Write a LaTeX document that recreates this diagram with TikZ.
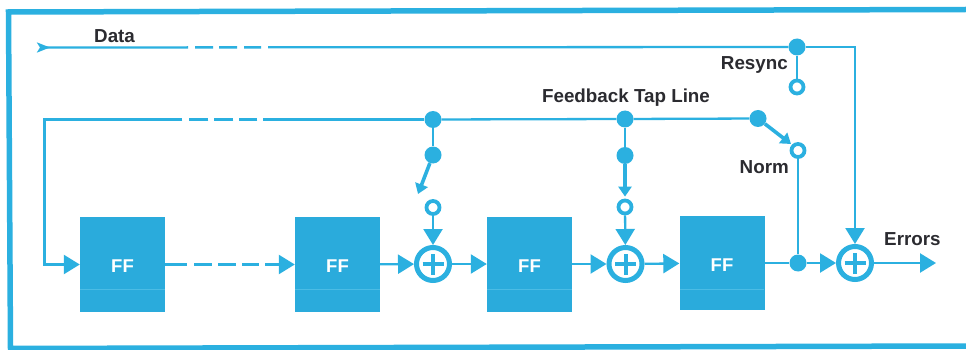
\documentclass[tikz,border=0pt]{standalone}
\usepackage{fontspec}
\setmainfont{Liberation Sans}
\usetikzlibrary{arrows.meta}
\definecolor{hpblue}{HTML}{2BB0E0}
\definecolor{boxblue}{HTML}{2AABDC}
\definecolor{inkdark}{HTML}{2B2B30}
\tikzset{
  wire/.style={draw=hpblue,line width=2.3pt},
  tri/.style={wire,-{Triangle[length=16pt,width=19pt,fill=hpblue]}},
  swarrow/.style={draw=hpblue,line width=3.6pt,-{Triangle[length=10pt,width=13pt,fill=hpblue]}},
  ffbox/.style={rectangle,fill=boxblue,minimum width=85pt,minimum height=95pt,inner sep=0pt,text=white,font=\bfseries\fontsize{18.5}{20}\selectfont},
  dot/.style={circle,fill=hpblue,minimum size=17pt,inner sep=0pt},
  ringsmall/.style={circle,draw=hpblue,line width=3.8pt,fill=white,minimum size=13pt,inner sep=0pt},
  xorring/.style={circle,draw=hpblue,line width=5pt,fill=white,minimum size=33pt,inner sep=0pt},
  plusbar/.style={draw=hpblue,line width=4pt},
  lab/.style={text=inkdark,inner sep=0pt,font=\bfseries\fontsize{18.8}{20}\selectfont},
  framebar/.style={draw=hpblue,line width=5.5pt,line join=miter},
  splitline/.style={draw=hpblue!85!white,line width=0.6pt}
}
\newcommand{\xorplus}[1]{%
  \draw[plusbar] ([xshift=-10.5pt]#1.center) -- ([xshift=10.5pt]#1.center);
  \draw[plusbar] ([yshift=-10.5pt]#1.center) -- ([yshift=10.5pt]#1.center);}
\newcommand{\fflabel}{\raisebox{-8.4pt}[0pt][0pt]{FF}}
\begin{document}
\begin{tikzpicture}[x=1pt,y=-1pt]
\useasboundingbox (0,0) rectangle (966,350);
\fill[white] (0,0) rectangle (966,350);
% frame
\draw[framebar] (966,9.5) -- (8.5,12) -- (10.5,348.5) -- (966,346);
% nodes
\node[ffbox] (ff1) at (122.5,264.5) {\fflabel};
\node[ffbox] (ff2) at (337.5,264.5) {\fflabel};
\node[ffbox] (ff3) at (529.5,264) {\fflabel};
\node[ffbox,minimum height=94pt] (ff4) at (722,263) {\fflabel};
\draw[splitline] (80,289.5) -- (165,289.5);
\draw[splitline] (295,289.5) -- (380,289.5);
\draw[splitline] (487,289.5) -- (572,289.5);
\draw[splitline] (680,289) -- (764,289);
\node[xorring] (x1) at (433,264) {};
\node[xorring] (x2) at (625.5,264) {};
\node[xorring] (x3) at (855,263) {};
\node[dot] (dres) at (797,47) {};
\node[ringsmall] (rres) at (797,87) {};
\node[dot] (dnorm) at (758,118.5) {};
\node[ringsmall] (rnorm) at (798,150.5) {};
\node[dot] (dout) at (798,263) {};
\node[dot] (t1a) at (433,119.5) {};
\node[dot] (t1b) at (433,155) {};
\node[ringsmall] (r1) at (433,207.5) {};
\node[dot] (t2a) at (625,119) {};
\node[dot] (t2b) at (625,155.5) {};
\node[ringsmall] (r2) at (625,207) {};
\coordinate (datastart) at (37,47.5);
\coordinate (fbcorner) at (44.5,119.5);
\coordinate (swend) at (418,194);
\coordinate (errend) at (936,263);
\coordinate (datacorner) at (855,47);
% data line
\draw[wire,{Stealth[reversed,length=13pt,width=10pt,inset=3pt,fill=hpblue]}-,dash pattern=on 142pt off 7pt on 18pt off 6pt on 18pt off 7pt on 17pt off 7pt on 1000pt] (datastart) -- (dres);
\draw[tri] (dres) -- (datacorner) -- (x3);
\draw[wire] (dres) -- (rres);
% feedback line
\draw[tri,line join=miter,dash pattern=on 161pt off 6pt on 18pt off 6pt on 19pt off 6pt on 19pt off 7pt on 1000pt] (t1a) -- (fbcorner) |- (ff1);
\draw[wire] (t1a) -- (t2a);
\draw[wire] (t2a) -- (dnorm);
\draw[swarrow] (dnorm) -- ([shift={(-7pt,6.5pt)}]rnorm.center);
\draw[wire] (rnorm) -- (dout);
% taps
\draw[wire] (t1a) -- (t1b);
\draw[swarrow] (t1b) -- (swend);
\draw[tri] (r1) -- (x1);
\draw[wire] (t2a) -- (t2b);
\draw[swarrow,shorten >=2pt] (t2b) -- (r2);
\draw[tri] (r2) -- (x2);
% register chain
\draw[tri,dash pattern=on 22pt off 7pt on 18pt off 6pt on 18pt off 6pt on 17pt off 6pt on 1000pt] (ff1) -- (ff2);
\draw[tri] (ff2) -- (x1);
\draw[tri] (x1) -- (ff3);
\draw[tri] (ff3) -- (x2);
\draw[tri] (x2) -- (ff4);
\draw[wire] (ff4) -- (dout);
\draw[tri] (dout) -- (x3);
\draw[tri] (x3) -- (errend);
\xorplus{x1}
\xorplus{x2}
\xorplus{x3}
% labels
\node[lab,anchor=west] (ldata) at (94,36) {Data};
\node[lab,anchor=east] (lres) at (788,65) {Resync};
\node[lab] (lfb) at (626,98) {Feedback Tap Line};
\node[lab,anchor=east] (lnorm) at (789,167.5) {Norm};
\node[lab,anchor=west] (lerr) at (884,239.5) {Errors};
\end{tikzpicture}
\end{document}
